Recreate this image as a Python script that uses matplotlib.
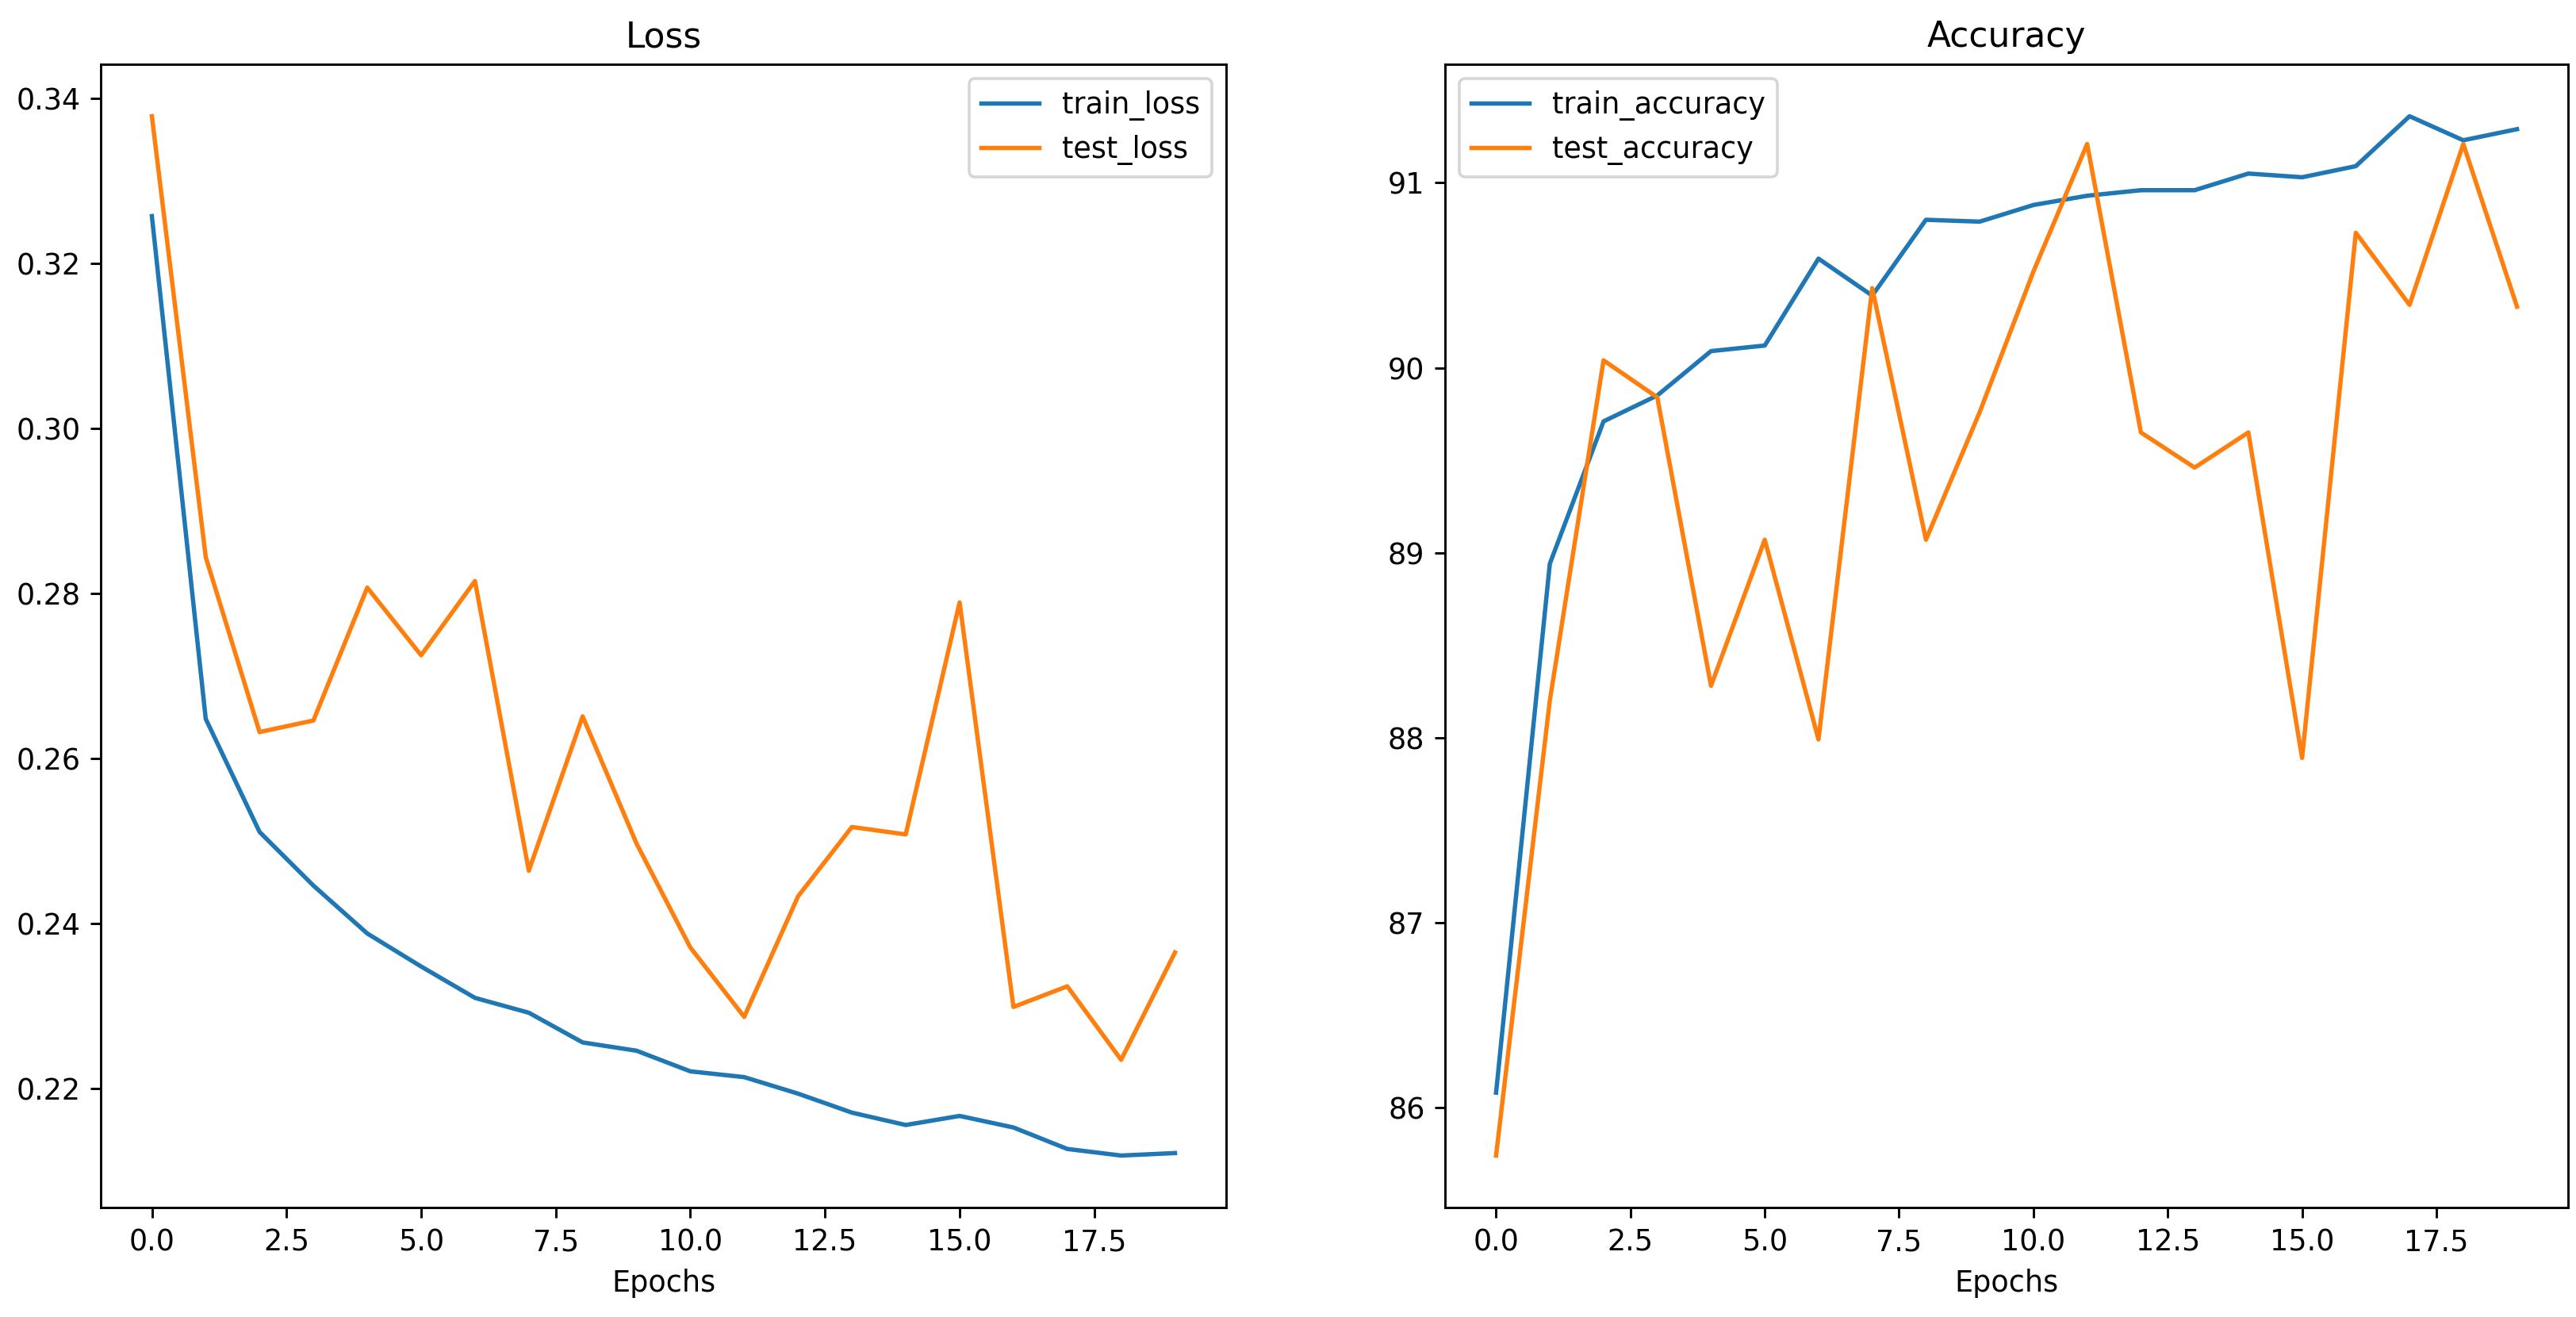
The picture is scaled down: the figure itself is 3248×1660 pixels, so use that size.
import matplotlib
matplotlib.use('Agg')
import matplotlib.pyplot as plt

epochs = list(range(20))

train_loss = [0.3257, 0.2648, 0.2511, 0.2446, 0.2388, 0.2348, 0.2310, 0.2292, 0.2256, 0.2246,
              0.2221, 0.2214, 0.2194, 0.2171, 0.2156, 0.2167, 0.2153, 0.2127, 0.2119, 0.2122]
test_loss = [0.3378, 0.2844, 0.2632, 0.2646, 0.2807, 0.2725, 0.2815, 0.2464, 0.2651, 0.2497,
             0.2371, 0.2287, 0.2433, 0.2517, 0.2508, 0.2789, 0.2299, 0.2324, 0.2235, 0.2365]

train_accuracy = [86.08, 88.94, 89.71, 89.85, 90.09, 90.12, 90.59, 90.39, 90.80, 90.79,
                  90.88, 90.93, 90.96, 90.96, 91.05, 91.03, 91.09, 91.36, 91.23, 91.29]
test_accuracy = [85.74, 88.20, 90.04, 89.84, 88.28, 89.07, 87.99, 90.43, 89.07, 89.76,
                 90.52, 91.21, 89.65, 89.46, 89.65, 87.89, 90.73, 90.34, 91.21, 90.33]

fig = plt.figure(figsize=(3248 / 263, 1660 / 263), dpi=263)
ax1 = fig.add_axes([127 / 3248, 1 - 1522 / 1660, 1419 / 3248, 1441 / 1660])
ax2 = fig.add_axes([1822 / 3248, 1 - 1522 / 1660, 1416 / 3248, 1441 / 1660])

# loss curves
ax1.plot(epochs, train_loss, label='train_loss')
ax1.plot(epochs, test_loss, label='test_loss')
ax1.set_title('Loss')
ax1.set_xlabel('Epochs')
ax1.legend(loc='upper right')

# accuracy curves
ax2.plot(epochs, train_accuracy, label='train_accuracy')
ax2.plot(epochs, test_accuracy, label='test_accuracy')
ax2.set_title('Accuracy')
ax2.set_xlabel('Epochs')
ax2.legend(loc='upper left')

fig.savefig('out.png', dpi=263)
